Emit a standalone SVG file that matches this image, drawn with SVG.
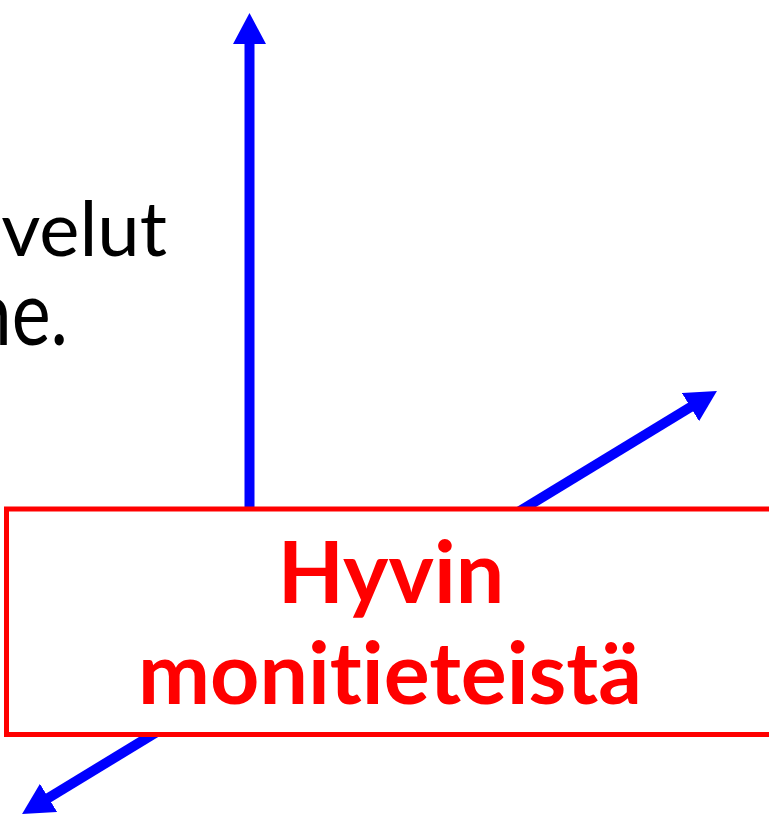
<svg xmlns="http://www.w3.org/2000/svg" width="769" height="822" viewBox="0 0 769 822">
<style>
text{font-variant-ligatures:none}
.conn{stroke:#0000ff;stroke-width:10;fill:none}
.box{fill:#ffffff;stroke:#ff0000;stroke-width:5}
.lbl{font-family:Lato,"Liberation Sans",sans-serif;font-weight:bold;font-size:86px;fill:#ff0000;text-anchor:middle}
.body{font-family:Lato,"Liberation Sans",sans-serif;font-size:76px;fill:#000000;text-anchor:end}
</style>
<defs>
<marker id="ah" markerUnits="userSpaceOnUse" viewBox="0 0 31 33" refX="6" refY="16.5" markerWidth="31" markerHeight="33" orient="auto-start-reverse">
<path d="M0,0 L31,16.5 L0,33 z" fill="#0000ff"/>
</marker>
</defs>
<g id="text-body">
<text class="body" x="167" y="256">velut</text>
<text class="body" transform="translate(68,345) scale(0.97,1.2)" x="0" y="0">ne.</text>
</g>
<g id="connectors">
<line class="conn" x1="249.5" y1="520" x2="249.5" y2="38" marker-end="url(#ah)"/>
<line class="conn" x1="43.4" y1="801" x2="695.6" y2="404" marker-start="url(#ah)" marker-end="url(#ah)"/>
</g>
<g id="node-hyvin">
<rect class="box" x="6.5" y="509" width="770" height="225.5"/>
<text class="lbl" x="391" y="603">Hyvin</text>
<text class="lbl" x="390" y="704">monitieteistä</text>
</g>
</svg>
